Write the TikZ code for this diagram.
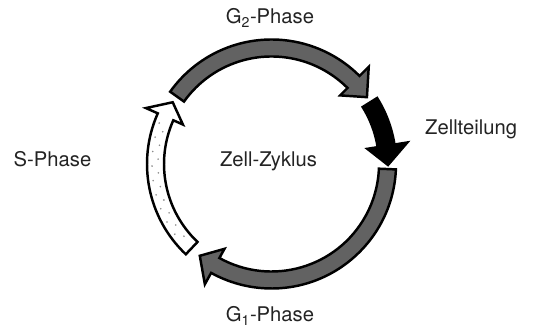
\documentclass[tikz,border=0pt]{standalone}
\usepackage{fontspec}
\setmainfont{TeX Gyre Heros}
\usepackage{xcolor}
\definecolor{Grau}{RGB}{98,98,98}
\definecolor{Punkt}{RGB}{140,140,140}
\definecolor{Schrift}{RGB}{35,35,35}

\def\Raussen{12.45}
\def\Rinnen{10.75}
\def\Rmitte{11.65}
\def\Rkopfa{13.75}
\def\Rkopfi{9.7}
% Schwanz, Kopfansatz, Spitze, Stil
\newcommand{\zykluspfeil}[4]{%
  \draw[#4] (#1:\Raussen) arc[start angle=#1, end angle=#2, radius=\Raussen]
    -- (#2:\Rkopfa) -- (#3:\Rmitte) -- (#2:\Rkopfi) -- (#2:\Rinnen)
    arc[start angle=#2, end angle=#1, radius=\Rinnen] -- cycle;}

\begin{document}
\begin{tikzpicture}[
  scale=0.4,
  pfeil/.style={draw=black, line width=2.8pt, line join=miter},
  phase/.style={
    font=\fontsize{23}{27}\selectfont,
    text=Schrift, inner sep=0pt
  }
]
\useasboundingbox (0,0) rectangle (53.5,33.2);

\coordinate (mitte) at (27.15,16.8);

\begin{scope}[shift={(mitte)}]
  \zykluspfeil{144.5}{45}{35}{pfeil, fill=Grau}
  \zykluspfeil{32}{9}{-0.5}{pfeil, fill=black}
  \zykluspfeil{-2.5}{-119}{-128}{pfeil, fill=Grau}
  \zykluspfeil{226.5}{156}{148}{pfeil, fill=white}
  \foreach \w [count=\i] in {160,163.5,...,222} {
    \pgfmathsetmacro\r{mod(\i,2)==0 ? 11.35 : 11.95}
    \fill[Punkt] (\w:\r) circle[radius=0.09];
  }
\end{scope}

\node[phase, anchor=base] (gzwei) at (27.0,30.8) {G\textsubscript{2}-Phase};
\node[phase, anchor=base west] (teilung) at (42.5,19.7) {Zellteilung};
\node[phase, anchor=base] (zyklus) at (26.85,16.5) {Zell-Zyklus};
\node[phase, anchor=base] (sphase) at (5.25,16.5) {S-Phase};
\node[phase, anchor=base] (geins) at (27.0,1.0) {G\textsubscript{1}-Phase};

\end{tikzpicture}
\end{document}
